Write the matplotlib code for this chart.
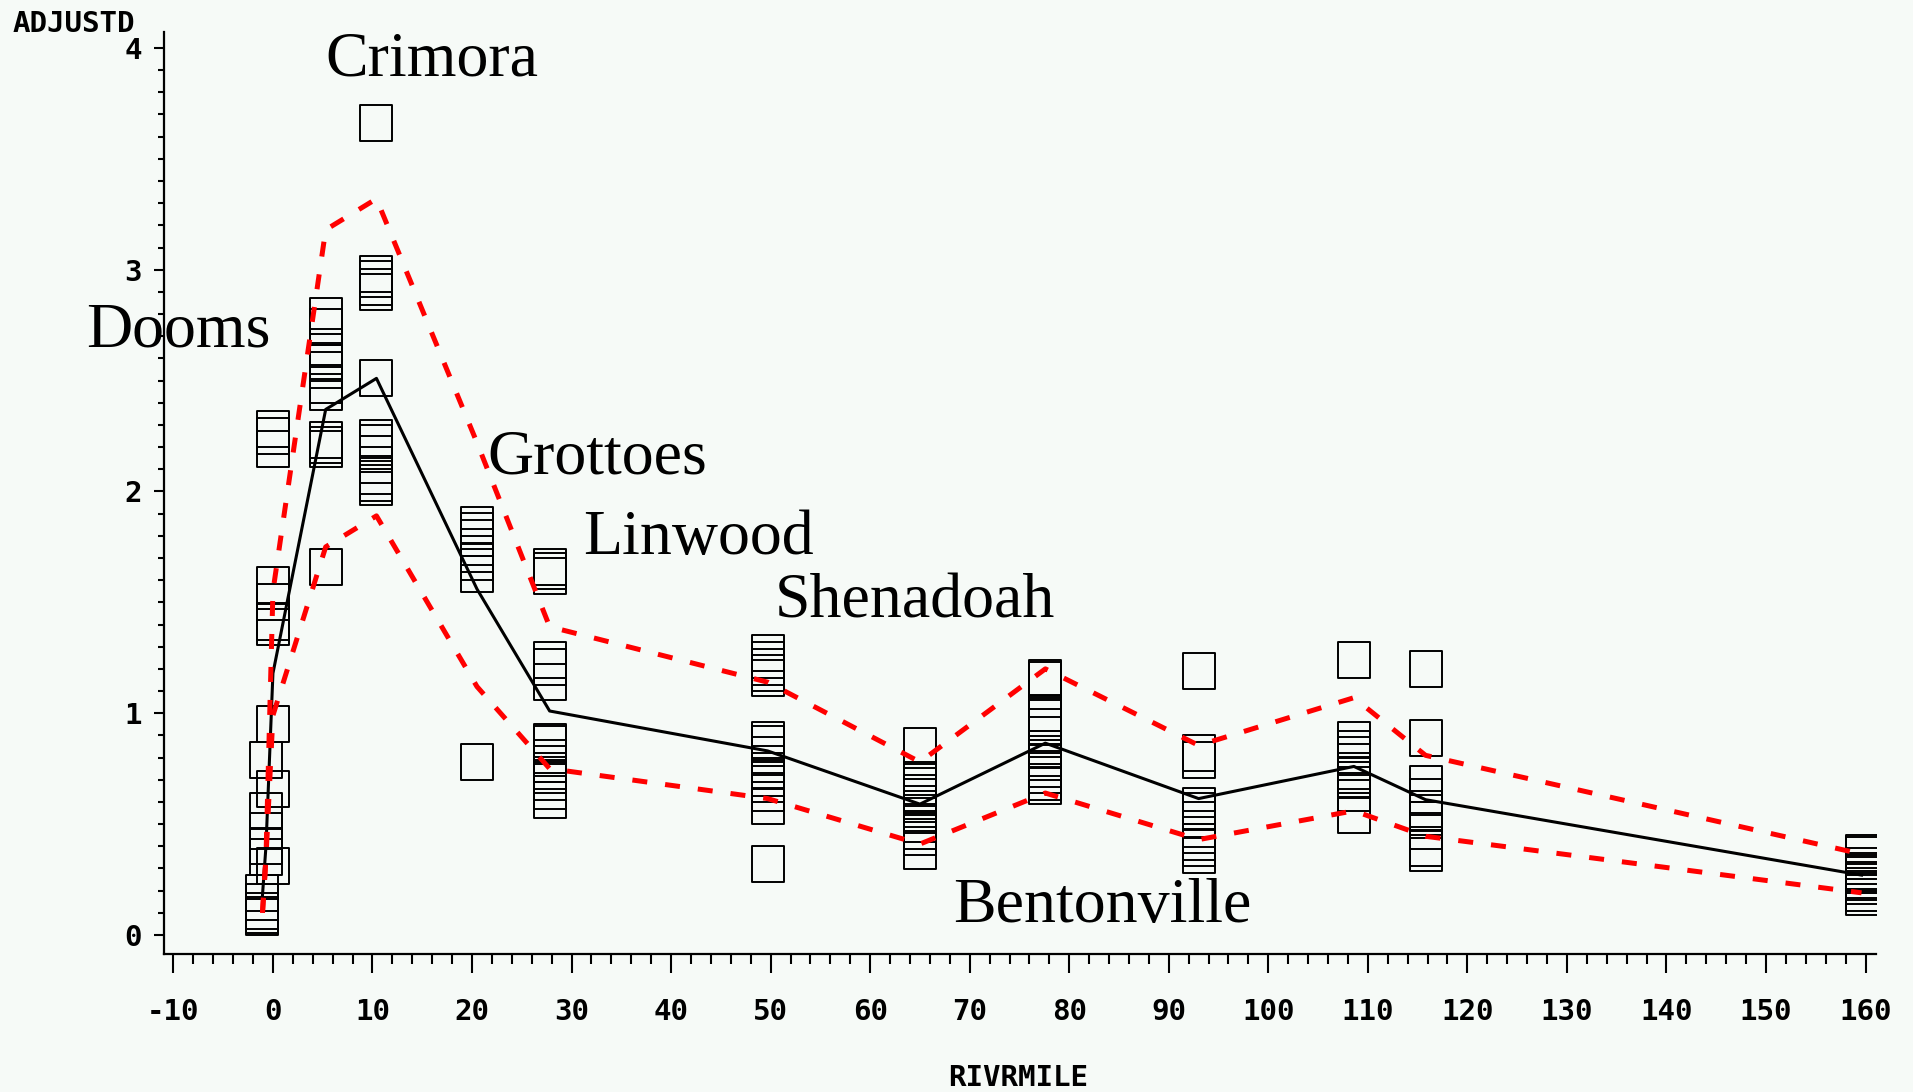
import matplotlib
matplotlib.use('Agg')
from matplotlib import pyplot as plt
from matplotlib.path import Path
from matplotlib.ticker import MultipleLocator

plt.rcParams['axes.unicode_minus'] = False

# observations (river mile, adjusted value) grouped by sampling site
site_x = [-1.05, -0.7, 0.0, 5.3, 10.4, 20.5, 27.8, 49.7, 65.0, 77.6, 93.0, 108.6, 115.8, 159.6]
site_vals = [
    [0.19, 0.15, 0.11, 0.09, 0.08],
    [0.79, 0.56, 0.47, 0.40, 0.35],
    [2.28, 2.25, 2.19, 1.58, 1.50, 1.41, 1.39, 0.95, 0.66, 0.31],
    [2.79, 2.74, 2.65, 2.59, 2.58, 2.55, 2.48, 2.45, 2.23, 2.21, 2.19, 1.66],
    [3.66, 2.98, 2.96, 2.92, 2.90, 2.51, 2.24, 2.22, 2.17, 2.12, 2.07, 2.04, 2.02],
    [1.85, 1.82, 1.79, 1.75, 1.72, 1.68, 1.63, 0.78],
    [1.66, 1.64, 1.62, 1.24, 1.21, 1.14, 0.87, 0.86, 0.80, 0.77, 0.74, 0.72, 0.69, 0.65, 0.61],
    [1.27, 1.24, 1.21, 1.18, 1.16, 0.88, 0.86, 0.81, 0.77, 0.74, 0.71, 0.68, 0.64, 0.58, 0.32],
    [0.85, 0.70, 0.67, 0.64, 0.62, 0.59, 0.57, 0.55, 0.50, 0.47, 0.44, 0.38],
    [1.16, 1.15, 1.00, 0.98, 0.94, 0.90, 0.84, 0.80, 0.78, 0.75, 0.72, 0.69, 0.67],
    [1.19, 0.82, 0.79, 0.58, 0.56, 0.52, 0.48, 0.45, 0.42, 0.39, 0.36],
    [1.24, 0.88, 0.84, 0.81, 0.78, 0.74, 0.72, 0.70, 0.64, 0.54],
    [1.20, 0.89, 0.68, 0.62, 0.57, 0.55, 0.52, 0.47, 0.39, 0.37],
    [0.37, 0.36, 0.31, 0.29, 0.28, 0.27, 0.25, 0.24, 0.22, 0.19, 0.17],
]

# mean line and confidence limits at each site
mean_y = [0.18, 0.40, 1.18, 2.37, 2.51, 1.56, 1.01, 0.83, 0.59, 0.865, 0.615, 0.76, 0.61, 0.27]
upper_y = [0.10, 0.35, 1.55, 3.18, 3.32, 2.22, 1.39, 1.14, 0.78, 1.20, 0.855, 1.07, 0.81, 0.365]
lower_y = [0.10, 0.35, 0.99, 1.75, 1.89, 1.12, 0.75, 0.615, 0.41, 0.64, 0.43, 0.56, 0.445, 0.19]

site_names = ['Crimora', 'Dooms', 'Grottoes', 'Linwood', 'Shenadoah', 'Bentonville']
name_x = [5.3, -18.8, 21.5, 31.15, 50.4, 68.3]
name_y = [3.874, 2.652, 2.083, 1.718, 1.43, 0.059]

bg = '#f6faf7'
fig = plt.figure(figsize=(19.13, 10.92), dpi=100, facecolor=bg)
ax = fig.add_axes([0.0857, 0.1264, 0.895, 0.8443])
ax.set_facecolor(bg)

box = Path([(-0.42, -0.5), (0.42, -0.5), (0.42, 0.5), (-0.42, 0.5), (-0.42, -0.5)],
           [Path.MOVETO, Path.LINETO, Path.LINETO, Path.LINETO, Path.CLOSEPOLY])

xs = []
ys = []
for x, vals in zip(site_x, site_vals):
    for v in vals:
        xs.append(x)
        ys.append(v)
ax.plot(xs, ys, linestyle='none', marker=box, ms=26.6, mfc='none', mec='black', mew=1.4, zorder=2)

ax.plot(site_x, mean_y, color='black', lw=2.2, zorder=3)
ax.plot(site_x, upper_y, color='#ff0000', lw=3.6, linestyle=(0, (3, 3.6)), zorder=4)
ax.plot(site_x, lower_y, color='#ff0000', lw=3.6, linestyle=(0, (3, 3.6)), zorder=4)

for name, tx, ty in zip(site_names, name_x, name_y):
    ax.text(tx, ty, name, fontsize=46, family='Liberation Serif', ha='left', va='baseline', zorder=5)

ax.set_xlim(-10.95, 161.06)
ax.set_ylim(-0.0857, 4.072)
for s in ['top', 'right']:
    ax.spines[s].set_visible(False)
for s in ['left', 'bottom']:
    ax.spines[s].set_linewidth(1.6)

ax.xaxis.set_major_locator(MultipleLocator(10))
ax.xaxis.set_minor_locator(MultipleLocator(2))
ax.yaxis.set_major_locator(MultipleLocator(1))
ax.yaxis.set_minor_locator(MultipleLocator(0.1))
ax.tick_params(axis='x', which='major', length=13.7, width=1.5, pad=18)
ax.tick_params(axis='x', which='minor', length=7.2, width=1.5)
ax.tick_params(axis='y', which='major', length=7.0, width=1.5, pad=9)
ax.tick_params(axis='y', which='minor', length=4.3, width=1.5)

tick_font = dict(family='DejaVu Sans Mono', weight='bold', size=21)
ax.set_xticks(range(-10, 161, 10))
ax.set_xticklabels([str(v) for v in range(-10, 161, 10)], **tick_font)
ax.set_yticks(range(0, 5))
ax.set_yticklabels([str(v) for v in range(0, 5)], **tick_font)

fig.text(13 / 1913, 1 - 32 / 1092, 'ADJUSTD', ha='left', va='baseline', **tick_font)
fig.text(1018 / 1913, 1 - 1086 / 1092, 'RIVRMILE', ha='center', va='baseline', **tick_font)

plt.savefig('out.png', dpi=100, facecolor=bg)
